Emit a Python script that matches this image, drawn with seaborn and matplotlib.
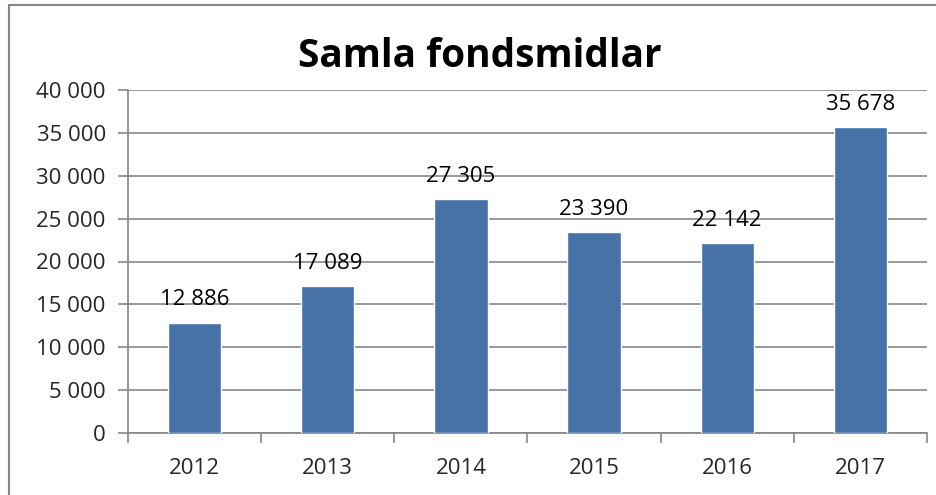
import matplotlib
matplotlib.use("Agg")
import numpy as np
import pandas as pd
import seaborn as sns
import matplotlib.pyplot as plt
from matplotlib.patches import Rectangle

years = ["2012", "2013", "2014", "2015", "2016", "2017"]
values = [12886, 17089, 27305, 23390, 22142, 35678]
yticks = [0, 5000, 10000, 15000, 20000, 25000, 30000, 35000, 40000]

def fmt(v):
    return f"{v:,}".replace(",", " ")

sns.set_theme(style="white")
plt.rcParams["font.family"] = ["Open Sans", "DejaVu Sans"]

df = pd.DataFrame({"year": years, "value": values})
grid_c = "#868686"
fs = 16

fig = plt.figure(figsize=(9.37, 4.95), dpi=100)
ax = fig.add_axes([128 / 937, 1 - 433 / 495, (927 - 128) / 937, (433 - 90) / 495])

sns.barplot(data=df, x="year", y="value", color="#4672A8", width=0.4,
            saturation=1, ax=ax, zorder=3)

ax.set_ylim(0, 40000)
ax.set_xlim(-0.5, 5.5)
ax.set_yticks(yticks)
ax.set_yticklabels([fmt(v) for v in yticks], fontsize=fs)
ax.set_xticks(range(len(years)))
ax.set_xticklabels(years, fontsize=fs)
ax.set_xlabel("")
ax.set_ylabel("")
ax.yaxis.grid(True, color=grid_c, linewidth=1.2, zorder=0)

for s in ["top", "right"]:
    ax.spines[s].set_visible(False)
for s in ["left", "bottom"]:
    ax.spines[s].set_color(grid_c)
    ax.spines[s].set_linewidth(1.2)

ax.tick_params(axis="y", length=7, width=1.2, color=grid_c, pad=9, left=True)
ax.tick_params(axis="x", length=0, pad=18)
# category boundary ticks on x axis
ax.set_xticks(np.arange(-0.5, 6, 1), minor=True)
ax.tick_params(axis="x", which="minor", length=7, width=1.2, color=grid_c, bottom=True)

for i, v in enumerate(values):
    ax.text(i, v + 1400, fmt(v), ha="center", va="bottom", fontsize=fs, color="black")

fig.text(480 / 937, 1 - 56 / 495, "Samla fondsmidlar", ha="center", va="center",
         fontsize=28, fontweight="bold", color="black")

fig.patches.append(Rectangle((9.5 / 937, -0.1), 2, 1.1 - 5.5 / 495,
                             transform=fig.transFigure, fill=False,
                             edgecolor=grid_c, linewidth=1.5))

fig.savefig("out.png", dpi=100)
